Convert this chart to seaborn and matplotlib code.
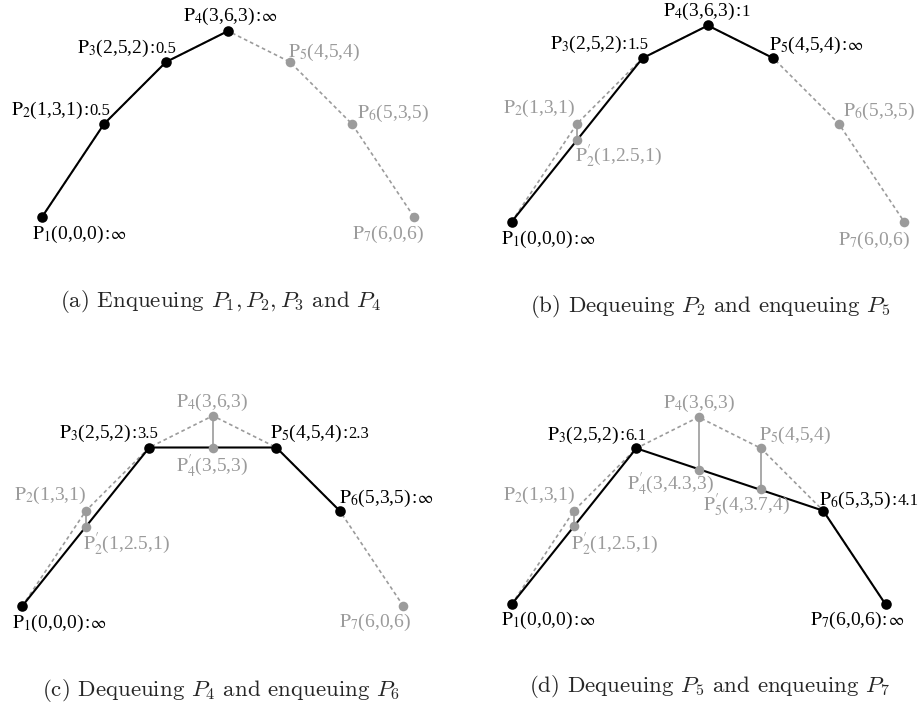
import matplotlib
matplotlib.use("Agg")
import matplotlib.pyplot as plt
import seaborn as sns
import pandas as pd

sns.set_theme(style="white")
plt.rcParams['font.family'] = ['Liberation Serif', 'DejaVu Serif']
plt.rcParams['mathtext.fontset'] = 'cm'

# ---------------- data ----------------
point_names = ["P1", "P2", "P3", "P4", "P5", "P6", "P7"]
point_x = [0, 1, 2, 3, 4, 5, 6]
point_y = [0, 3, 5, 6, 5, 3, 0]
point_z = [0, 1, 2, 3, 4, 5, 6]

# queue chain (black) and priority values per panel
chain_a = ["P1", "P2", "P3", "P4"]
prio_a = ["inf", "0.5", "0.5", "inf"]
chain_b = ["P1", "P3", "P4", "P5"]
prio_b = ["inf", "1.5", "1", "inf"]
chain_c = ["P1", "P3", "P5", "P6"]
prio_c = ["inf", "3.5", "2.3", "inf"]
chain_d = ["P1", "P3", "P6", "P7"]
prio_d = ["inf", "6.1", "4.1", "inf"]

# projected points P' per panel
proj_a_names, proj_a_y = [], []
proj_b_names, proj_b_y = ["P2"], [2.5]
proj_c_names, proj_c_y = ["P2", "P4"], [2.5, 5]
proj_d_names, proj_d_y = ["P2", "P4", "P5"], [2.5, 4.3, 3.7]

captions = [
    r"(a) Enqueuing $P_1, P_2, P_3$ and $P_4$",
    r"(b) Dequeuing $P_2$ and enqueuing $P_5$",
    r"(c) Dequeuing $P_4$ and enqueuing $P_6$",
    r"(d) Dequeuing $P_5$ and enqueuing $P_7$",
]

# ---------------- layout ----------------
W, H = 921, 708
GREY = "#9b9b9b"
BLACK = "#000000"

panels = [
    dict(origin=(42, 217), sx=62.0, sy=31.0, cap=(220, 301.7),
         chain=chain_a, prio=prio_a, pn=proj_a_names, py=proj_a_y,
         off={"P1": (-10, -22), "P2": (-93, 9), "P3": (-89, 9), "P4": (-45, 10),
              "P5": (-2, 5), "P6": (5, 6), "P7": (-62, -22)}),
    dict(origin=(511.7, 221.7), sx=65.4, sy=32.7, cap=(710, 306.7),
         chain=chain_b, prio=prio_b, pn=proj_b_names, py=proj_b_y,
         off={"P1": (-11, -22.6), "P2": (-74, 10.7), "P2'": (-2, -22), "P3": (-93, 9),
              "P4": (-45, 10), "P5": (-4, 8.3), "P6": (4, 7.3), "P7": (-66, -23)}),
    dict(origin=(22.3, 606), sx=63.5, sy=31.7, cap=(221, 690),
         chain=chain_c, prio=prio_c, pn=proj_c_names, py=proj_c_y,
         off={"P1": (-10.6, -22), "P2": (-72, 10.7), "P2'": (-3, -22.7), "P3": (-90, 9.4),
              "P4": (-37, 9), "P4'": (-37, -24), "P5": (-6.4, 9.4), "P6": (-0.7, 7.7),
              "P7": (-64, -20.7)}),
    dict(origin=(511.7, 604.3), sx=62.3, sy=31.2, cap=(710, 686.7),
         chain=chain_d, prio=prio_d, pn=proj_d_names, py=proj_d_y,
         off={"P1": (-11, -20.7), "P2": (-70.6, 10.7), "P2'": (-3, -23), "P3": (-89, 8.3),
              "P4": (-36, 9), "P4'": (-72, -20), "P5": (-2, 8.3), "P5'": (-58, -21.7),
              "P6": (-4, 6), "P7": (-76, -20.7)}),
]

XL = (-1.0, 7.0)
YL = (-1.5, 7.0)

fig = plt.figure(figsize=(W / 100, H / 100), dpi=100)

df = pd.DataFrame({"name": point_names, "x": point_x, "y": point_y, "z": point_z})
pos = {n: (x, y) for n, x, y in zip(point_names, point_x, point_y)}
zval = dict(zip(point_names, point_z))


def fmt_num(v):
    return f"{v:g}"


def main_label(name, prime=False, yv=None):
    idx = name[1:]
    x, y = pos[name]
    if yv is None:
        yv = y
    sub = r"$\mathrm{P}^{\prime}_{%s}$" % idx if prime else r"$\mathrm{P}_{%s}$" % idx
    return sub + f"({fmt_num(x)},{fmt_num(yv)},{fmt_num(zval[name])})"


def put_label(ax, x, y, text, val, color, dx, dy):
    t = ax.annotate(text, xy=(x, y), xytext=(dx, dy), textcoords="offset pixels",
                    ha="left", va="baseline", fontsize=14, color=color,
                    math_fontfamily="stix", annotation_clip=False)
    if val is not None:
        vtxt = r"$\infty$" if val == "inf" else val
        colon = ax.annotate(":", xy=(1, y), xycoords=(t, "data"), xytext=(0.3, dy),
                            textcoords="offset pixels", ha="left", va="baseline",
                            fontsize=14, color=color, annotation_clip=False)
        ax.annotate(vtxt, xy=(1, y), xycoords=(colon, "data"), xytext=(0.3, dy),
                    textcoords="offset pixels", ha="left", va="baseline",
                    fontsize=12, color=color, math_fontfamily="stix",
                    annotation_clip=False)


for p, cap in zip(panels, captions):
    ox, oy = p["origin"]
    sx, sy = p["sx"], p["sy"]
    left = ox + sx * XL[0]
    width = sx * (XL[1] - XL[0])
    top = oy - sy * YL[1]
    height = sy * (YL[1] - YL[0])
    ax = fig.add_axes([left / W, 1 - (top + height) / H, width / W, height / H])
    ax.set_xlim(*XL)
    ax.set_ylim(*YL)
    ax.axis("off")

    # original polyline, grey dashed
    sns.lineplot(data=df, x="x", y="y", sort=False, estimator=None, color=GREY,
                 linewidth=1.2, linestyle=(0, (2.2, 1.8)), ax=ax, zorder=1)

    # vertical connectors original -> projected
    seg_rows = []
    for k, (n, yv) in enumerate(zip(p["pn"], p["py"])):
        seg_rows.append({"seg": k, "x": pos[n][0], "y": pos[n][1]})
        seg_rows.append({"seg": k, "x": pos[n][0], "y": yv})
    if seg_rows:
        sdf = pd.DataFrame(seg_rows)
        sns.lineplot(data=sdf, x="x", y="y", units="seg", estimator=None, sort=False,
                     color=GREY, linewidth=1.2, ax=ax, zorder=1)

    # chain, black solid
    cdf = df.set_index("name").loc[p["chain"]].reset_index()
    sns.lineplot(data=cdf, x="x", y="y", sort=False, estimator=None, color=BLACK,
                 linewidth=1.5, ax=ax, zorder=2)

    # grey dots: not in chain + projected
    gdf = df[~df["name"].isin(p["chain"])]
    pdf = pd.DataFrame({"x": [pos[n][0] for n in p["pn"]], "y": p["py"]})
    gall = pd.concat([gdf[["x", "y"]], pdf], ignore_index=True)
    sns.scatterplot(data=gall, x="x", y="y", color=GREY, s=48, linewidth=0,
                    ax=ax, zorder=3, clip_on=False)
    sns.scatterplot(data=cdf, x="x", y="y", color=BLACK, s=58, linewidth=0,
                    ax=ax, zorder=4, clip_on=False)
    ax.set_xlabel("")
    ax.set_ylabel("")

    # labels
    off = p["off"]
    for n in point_names:
        x, y = pos[n]
        dx, dy = off[n]
        if n in p["chain"]:
            val = p["prio"][p["chain"].index(n)]
            put_label(ax, x, y, main_label(n), val, BLACK, dx, dy)
        else:
            put_label(ax, x, y, main_label(n), None, GREY, dx, dy)
    for n, yv in zip(p["pn"], p["py"]):
        dx, dy = off[n + "'"]
        put_label(ax, pos[n][0], yv, main_label(n, prime=True, yv=yv), None, GREY, dx, dy)

    cx, cy = p["cap"]
    fig.text(cx / W, 1 - cy / H, cap, ha="center", va="center", fontsize=16.5,
             family="cmr10", math_fontfamily="cm")

fig.savefig("out.png", dpi=100)
